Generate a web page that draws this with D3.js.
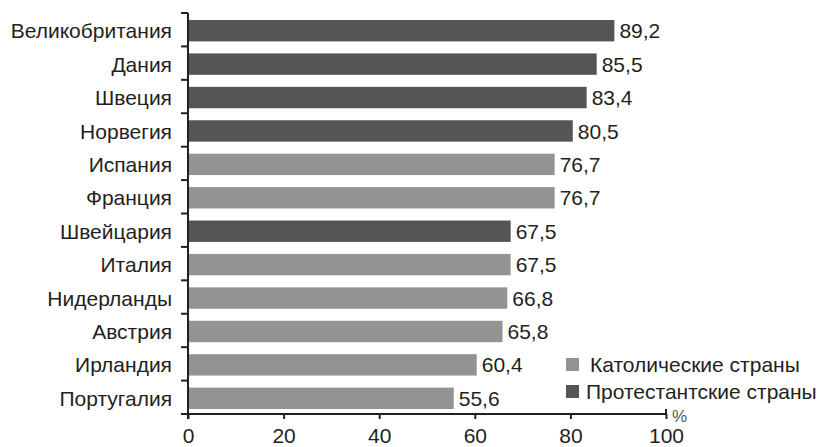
<!DOCTYPE html>
<html>
<head>
<meta charset="utf-8">
<script src="https://cdn.jsdelivr.net/npm/d3@7"></script>
<style>
  html, body { margin: 0; padding: 0; background: #fff; }
  svg { display: block; }
  text { font-family: "Liberation Sans", Arial, Helvetica, sans-serif; fill: #231f20; }
</style>
</head>
<body>
<svg id="chart" width="822" height="447"></svg>
<script>
const countries = ["Великобритания", "Дания", "Швеция", "Норвегия", "Испания", "Франция",
                   "Швейцария", "Италия", "Нидерланды", "Австрия", "Ирландия", "Португалия"];
const values = [89.2, 85.5, 83.4, 80.5, 76.7, 76.7, 67.5, 67.5, 66.8, 65.8, 60.4, 55.6];
const groups = ["Протестантские страны", "Протестантские страны", "Протестантские страны", "Протестантские страны",
                "Католические страны", "Католические страны", "Протестантские страны", "Католические страны",
                "Католические страны", "Католические страны", "Католические страны", "Католические страны"];
const legendLabels = ["Католические страны", "Протестантские страны"];
const xTicks = [0, 20, 40, 60, 80, 100];
const unitLabel = "%";

const data = countries.map((c, i) => ({ country: c, value: values[i], group: groups[i] }));

const svg = d3.select("#chart");
const mLeft = 188, mRight = 666, mTop = 13, mBottom = 414;

const x = d3.scaleLinear().domain([0, 100]).range([mLeft, mRight]);
const y = d3.scaleBand().domain(countries).range([mTop + 1, mBottom + 1]).paddingInner(0.36).paddingOuter(0.18);
const color = d3.scaleOrdinal().domain(legendLabels).range(["#939393", "#555557"]);

const fontSize = 21;

// bars
svg.append("g").selectAll("rect").data(data).join("rect")
  .attr("x", x(0))
  .attr("y", d => y(d.country))
  .attr("width", d => x(d.value) - x(0))
  .attr("height", y.bandwidth())
  .attr("fill", d => color(d.group));

// value labels
svg.append("g").selectAll("text").data(data).join("text")
  .attr("x", d => x(d.value) + 5)
  .attr("y", d => y(d.country) + y.bandwidth() / 2)
  .attr("dy", "0.36em")
  .style("font-size", fontSize + "px")
  .text(d => d3.format(".1f")(d.value).replace(".", ","));

// y axis: ticks at band boundaries
const n = countries.length;
const boundaries = d3.range(n + 1).map(i => mTop + i * (mBottom - mTop) / n);
const yAxisG = svg.append("g");
yAxisG.append("line").attr("x1", mLeft).attr("x2", mLeft).attr("y1", mTop).attr("y2", mBottom + 5)
  .attr("stroke", "#231f20").attr("stroke-width", 2);
yAxisG.selectAll("line.tk").data(boundaries).join("line").attr("class", "tk")
  .attr("x1", mLeft - 7).attr("x2", mLeft).attr("y1", d => d).attr("y2", d => d)
  .attr("stroke", "#231f20").attr("stroke-width", 2);
yAxisG.selectAll("text").data(countries).join("text")
  .attr("x", 172)
  .attr("y", d => y(d) + y.bandwidth() / 2)
  .attr("dy", "0.36em")
  .attr("text-anchor", "end")
  .style("font-size", fontSize + "px")
  .text(d => d);

// x axis
const xAxis = d3.axisBottom(x).tickValues(xTicks).tickSize(5).tickPadding(9).tickFormat(d3.format("d"));
const xg = svg.append("g").attr("transform", `translate(0,${mBottom})`).call(xAxis);
xg.select(".domain").attr("d", `M${mLeft - 7},0H${mRight}V-5`).attr("stroke", "#231f20").attr("stroke-width", 2).attr("fill", "none");
xg.selectAll(".tick line").attr("stroke", "#231f20").attr("stroke-width", 2);
xg.selectAll(".tick text").style("font-size", fontSize + "px").style("font-family", "'Liberation Sans', Arial, sans-serif").attr("fill", "#231f20");

svg.append("text").attr("x", mRight + 6).attr("y", 422).style("font-size", "17px").style("fill", "#555").text(unitLabel);

// legend
const lg = svg.append("g").selectAll("g").data(legendLabels).join("g")
  .attr("transform", (d, i) => `translate(566,${358 + i * 27})`);
lg.append("rect").attr("width", 13).attr("height", 13).attr("fill", d => color(d));
lg.append("text").attr("x", (d, i) => i === 0 ? 24 : 20).attr("y", 6.5).attr("dy", "0.36em")
  .style("font-size", fontSize + "px").text(d => d);
</script>
</body>
</html>
